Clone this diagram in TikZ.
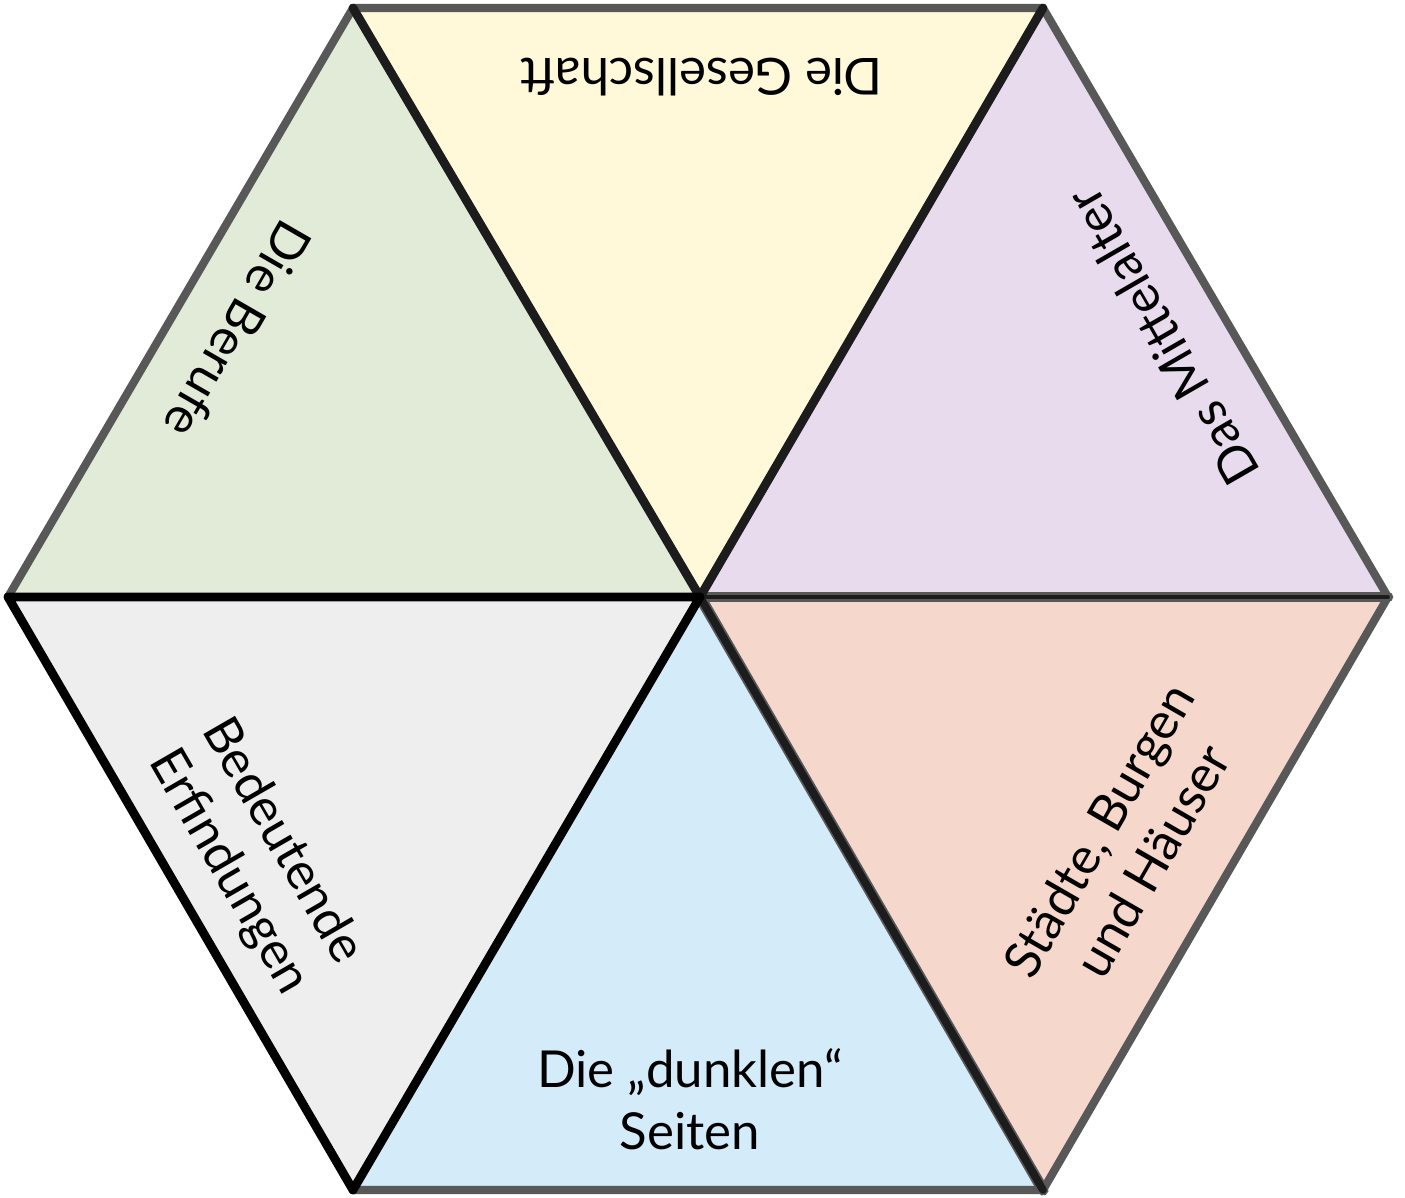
\documentclass[tikz,border=0pt]{standalone}
\usepackage{fontspec}
\setmainfont{Lato}
\usetikzlibrary{calc}
\definecolor{cgreen}{HTML}{E1EBD7}
\definecolor{cyellow}{HTML}{FFF9DA}
\definecolor{cpurple}{HTML}{E8DBEE}
\definecolor{cgrey}{HTML}{EEEEEE}
\definecolor{cblue}{HTML}{D4EBF9}
\definecolor{csalmon}{HTML}{F5D7CC}
\definecolor{cedge}{HTML}{585858}
\definecolor{cdark}{HTML}{1C1C1C}
\tikzset{
  every picture/.style={line join=round, line cap=round},
  rim/.style={draw=cedge, line width=2.3pt},
  spoke/.style={draw=cdark, line width=2.5pt},
  label/.style={font=\fontsize{14.5}{17.6}\selectfont, align=center, inner sep=0pt},
}
\begin{document}
\begin{tikzpicture}
  \useasboundingbox (-7.00,-6.01) rectangle (7.05,5.97);
  \coordinate (c) at (0,0);
  \coordinate (tl) at (-3.47,5.89);
  \coordinate (tr) at (3.43,5.89);
  \coordinate (r) at (6.88,0);
  \coordinate (br) at (3.43,-5.93);
  \coordinate (bl) at (-3.47,-5.93);
  \coordinate (l) at (-6.92,0);
  % six triangles
  \fill[cgreen] (c) -- (l) -- (tl) -- cycle;
  \fill[cyellow] (c) -- (tl) -- (tr) -- cycle;
  \fill[cpurple] (c) -- (tr) -- (r) -- cycle;
  \fill[csalmon] (c) -- (r) -- (br) -- cycle;
  \fill[cblue] (c) -- (br) -- (bl) -- cycle;
  \fill[cgrey] (c) -- (bl) -- (l) -- cycle;
  % outline
  \draw[rim] (l) -- (tl) -- (tr) -- (r) -- (br) -- (bl);
  \draw[rim, line width=3pt] (c) -- (r);
  \draw[rim, line width=3.2pt] (c) -- (br);
  \draw[draw=cdark, line width=1.1pt] (c) -- (r);
  \draw[spoke, line width=2.2pt] (c) -- (br);
  \draw[spoke] (tl) -- (c) -- (tr);
  \draw[spoke, draw=black] (l) -- (c) -- (bl) -- cycle;
  % labels
  \node[label, rotate=180] (gesellschaft) at (0.02,5.2) {Die Gesellschaft};
  \node[label, rotate=120] (mittelalter) at (4.62,2.6) {Das Mittelalter};
  \node[label, rotate=-120] (berufe) at (-4.62,2.67) {Die Berufe};
  \node[label, rotate=-60] (erfindungen) at (-4.45,-2.6) {Bedeutende\\Erfindungen};
  \node[label, rotate=60] (staedte) at (4.25,-2.48) {Städte, Burgen\\und Häuser};
  \node[label] (dunklen) at (-0.1,-5.02) {Die „dunklen“\\Seiten};
\end{tikzpicture}
\end{document}
